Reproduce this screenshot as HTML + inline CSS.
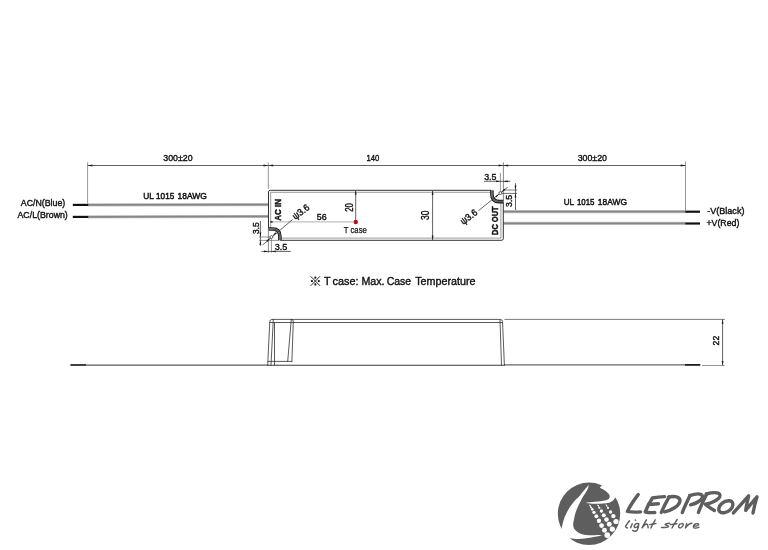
<!DOCTYPE html>
<html>
<head>
<meta charset="utf-8">
<title>Mechanical Specification</title>
<style>
  html, body { margin: 0; padding: 0; background: #ffffff; }
  body { width: 768px; height: 550px; overflow: hidden; font-family: "Liberation Sans", sans-serif; }
  svg { display: block; will-change: transform; }
  text { font-family: "Liberation Sans", sans-serif; fill: #111111; stroke: #111111; stroke-width: 0.4px; }
  .t { font-size: 9.5px; }
  .b { font-size: 9.9px; font-weight: bold; stroke-width: 0.45px; }
  .dim { stroke: #3a3a3a; stroke-width: 0.8; fill: none; }
  .ext { stroke: #6a6a6a; stroke-width: 0.7; fill: none; }
  .arr { fill: #1a1a1a; stroke: none; }
  .box { stroke: #262626; stroke-width: 0.95; fill: none; stroke-linejoin: round; }
  .inn { stroke: #9a9a9a; stroke-width: 1.0; fill: none; }
  .tip { stroke: #111111; stroke-width: 2.2; fill: none; }
  .side { stroke: #303030; stroke-width: 0.8; fill: none; stroke-linejoin: round; stroke-linecap: round; }
</style>
</head>
<body>
<svg width="768" height="550" viewBox="0 0 768 550">

  <!-- ================= TOP VIEW ================= -->
  <!-- overall dimension line -->
  <line class="dim" x1="87.6" y1="165.5" x2="685.5" y2="165.5"/>
  <!-- extension lines -->
  <line class="ext" x1="87.6" y1="162.4" x2="87.6" y2="203.6"/>
  <line class="ext" x1="268.3" y1="162.6" x2="268.3" y2="188.8"/>
  <line class="ext" x1="503.4" y1="162.4" x2="503.4" y2="202.6" style="stroke:#555"/>
  <line class="ext" x1="685.5" y1="161.6" x2="685.5" y2="210.6"/>
  <!-- arrows on the overall dimension line -->
  <path class="arr" d="M87.6 165.5 l4.8 -0.95 v1.9 z"/>
  <path class="arr" d="M268.3 165.5 l-4.8 -0.95 v1.9 z"/>
  <path class="arr" d="M268.3 165.5 l4.8 -0.95 v1.9 z"/>
  <path class="arr" d="M503.4 165.5 l-4.8 -0.95 v1.9 z"/>
  <path class="arr" d="M503.4 165.5 l4.8 -0.95 v1.9 z"/>
  <path class="arr" d="M685.5 165.5 l-4.8 -0.95 v1.9 z"/>

  <text class="t" x="163.3" y="160.9" textLength="29.3" lengthAdjust="spacingAndGlyphs">300±20</text>
  <text class="t" x="366.6" y="160.9" textLength="12.8" lengthAdjust="spacingAndGlyphs">140</text>
  <text class="t" x="577.7" y="161.0" textLength="29.3" lengthAdjust="spacingAndGlyphs">300±20</text>

  <!-- left wires -->
  <g>
    <line x1="88" y1="204.9" x2="268.3" y2="204.6" stroke="#c6c6c6" stroke-width="3.1"/>
    <line x1="88" y1="204.9" x2="268.3" y2="204.6" stroke="#858585" stroke-width="1.7"/>
    <line x1="88" y1="216.9" x2="268.3" y2="216.4" stroke="#c6c6c6" stroke-width="3.1"/>
    <line x1="88" y1="216.9" x2="268.3" y2="216.4" stroke="#858585" stroke-width="1.7"/>
    <line class="tip" x1="72.8" y1="204.9" x2="88.2" y2="204.9"/>
    <line class="tip" x1="72.8" y1="216.9" x2="88.2" y2="216.9"/>
  </g>
  <!-- right wires -->
  <g>
    <line x1="503.6" y1="211.6" x2="685.6" y2="211.6" stroke="#c6c6c6" stroke-width="3.1"/>
    <line x1="503.6" y1="211.6" x2="685.6" y2="211.6" stroke="#858585" stroke-width="1.7"/>
    <line x1="503.6" y1="223.4" x2="685.6" y2="223.4" stroke="#c6c6c6" stroke-width="3.1"/>
    <line x1="503.6" y1="223.4" x2="685.6" y2="223.4" stroke="#858585" stroke-width="1.7"/>
    <line class="tip" x1="685.3" y1="211.7" x2="700" y2="211.7"/>
    <line class="tip" x1="685.3" y1="223.5" x2="700" y2="223.5"/>
  </g>

  <!-- wire labels -->
  <text class="t" x="20.8" y="205.9" textLength="44.5" lengthAdjust="spacingAndGlyphs">AC/N(Blue)</text>
  <text class="t" x="17.5" y="218.0" textLength="50.3" lengthAdjust="spacingAndGlyphs">AC/L(Brown)</text>
  <text class="t" x="707.3" y="213.8" textLength="37.1" lengthAdjust="spacingAndGlyphs">-V(Black)</text>
  <text class="t" x="706.5" y="225.7" textLength="32.8" lengthAdjust="spacingAndGlyphs">+V(Red)</text>
  <text class="t" x="143.2" y="199.0" textLength="10.6" lengthAdjust="spacingAndGlyphs" style="font-size:9.6px;stroke-width:0.5px">UL</text>
  <text class="t" x="156.1" y="199.0" textLength="18.1" lengthAdjust="spacingAndGlyphs" style="font-size:9.6px;stroke-width:0.5px">1015</text>
  <text class="t" x="177.5" y="199.0" textLength="29.3" lengthAdjust="spacingAndGlyphs" style="font-size:9.6px;stroke-width:0.5px">18AWG</text>
  <text class="t" x="563.8" y="204.8" textLength="10.2" lengthAdjust="spacingAndGlyphs" style="font-size:9.6px;stroke-width:0.5px">UL</text>
  <text class="t" x="576.9" y="204.8" textLength="17.6" lengthAdjust="spacingAndGlyphs" style="font-size:9.6px;stroke-width:0.5px">1015</text>
  <text class="t" x="597.8" y="204.8" textLength="29.2" lengthAdjust="spacingAndGlyphs" style="font-size:9.6px;stroke-width:0.5px">18AWG</text>

  <!-- case inner (grey) lines -->
  <path class="inn" d="M270.7 228 V192.3 H491.2"/>
  <path class="inn" d="M280.6 238.1 H500.9 V203"/>
  <!-- T case reference line -->
  <line x1="270.8" y1="221.8" x2="355.5" y2="221.8" stroke="#c2c2c2" stroke-width="1.3"/>

  <!-- case outline -->
  <path class="box" d="M268.5 228.2 V192 Q268.5 190.3 270.2 190.3 H491.0"/>
  <path class="box" d="M503.3 202.4 V238.6 Q503.3 240.3 501.6 240.3 H280.2"/>

  <!-- bottom-left mounting notch -->
  <path d="M268.5 227.9 H272.6 Q281.0 227.9 281.0 236.2 V240.3" stroke="#1c1c1c" stroke-width="1.35" fill="none"/>
  <path d="M268.5 230.1 H272.2 Q278.8 230.1 278.8 236.6 V240.3" stroke="#1c1c1c" stroke-width="1.35" fill="none"/>
  <path d="M268.5 229 H272.4 Q279.9 229 279.9 236.4 V240.3" stroke="#606060" stroke-width="1.5" fill="none"/>
  <!-- top-right mounting notch -->
  <path d="M503.3 202.7 H499.2 Q490.8 202.7 490.8 194.4 V190.3" stroke="#1c1c1c" stroke-width="1.35" fill="none"/>
  <path d="M503.3 200.5 H499.6 Q493.0 200.5 493.0 194.0 V190.3" stroke="#1c1c1c" stroke-width="1.35" fill="none"/>
  <path d="M503.3 201.6 H499.4 Q491.9 201.6 491.9 194.2 V190.3" stroke="#606060" stroke-width="1.5" fill="none"/>

  <!-- 3.5 dims bottom-left -->
  <line class="ext" x1="268.4" y1="228.0" x2="268.4" y2="252.8" style="stroke:#555"/>
  <line class="ext" x1="271.4" y1="238.4" x2="271.4" y2="252.8"/>
  <line class="dim" x1="261.4" y1="251.4" x2="290.8" y2="251.4"/>
  <path class="arr" d="M268.4 251.4 l-4.4 -0.9 v1.8 z"/>
  <path class="arr" d="M271.4 251.4 l4.4 -0.9 v1.8 z"/>
  <text class="t" x="274.8" y="249.7" textLength="12.6" lengthAdjust="spacingAndGlyphs">3.5</text>

  <line class="ext" x1="259.2" y1="237.0" x2="270.0" y2="237.0"/>
  <line class="ext" x1="259.2" y1="240.4" x2="279.0" y2="240.4"/>
  <line class="dim" x1="260.4" y1="221.0" x2="260.4" y2="245.9"/>
  <path class="arr" d="M260.4 237.0 l-0.9 -4.4 h1.8 z"/>
  <path class="arr" d="M260.4 240.4 l-0.9 4.4 h1.8 z"/>
  <text class="t" transform="translate(258.8 233.9) rotate(-90)" textLength="11.7" lengthAdjust="spacingAndGlyphs">3.5</text>

  <!-- 3.5 dims top-right -->
  <line class="ext" x1="500.4" y1="172.9" x2="500.4" y2="191.7"/>
  <line class="dim" x1="484.0" y1="181.3" x2="510.4" y2="181.3"/>
  <path class="arr" d="M500.4 181.3 l-4.4 -0.9 v1.8 z"/>
  <path class="arr" d="M503.4 181.3 l4.4 -0.9 v1.8 z"/>
  <text class="t" x="484.2" y="180.2" textLength="12.3" lengthAdjust="spacingAndGlyphs">3.5</text>

  <line class="ext" x1="503.4" y1="190.0" x2="517.2" y2="190.0" style="stroke:#8a8a8a;stroke-width:1.1"/>
  <line class="ext" x1="501.7" y1="193.4" x2="517.2" y2="193.4" style="stroke:#4a4a4a;stroke-width:0.8"/>
  <line class="dim" x1="515.5" y1="183.2" x2="515.5" y2="210.0"/>
  <path class="arr" d="M515.5 190.0 l-0.9 -4.4 h1.8 z"/>
  <path class="arr" d="M515.5 193.1 l-0.9 4.4 h1.8 z"/>
  <text class="t" transform="translate(512.4 207.0) rotate(-90)" textLength="12.2" lengthAdjust="spacingAndGlyphs">3.5</text>

  <!-- hole leaders -->
  <line class="dim" x1="262.6" y1="245.0" x2="292.6" y2="219.5"/>
  <path class="arr" d="M270.3 237.9 L266.4 240.4 L267.5 241.7 z"/>
  <path class="arr" d="M272.5 236.1 L276.4 233.6 L275.3 232.3 z"/>
  <text class="t" transform="translate(295.3 219.9) rotate(-36.5)" textLength="18.6" lengthAdjust="spacingAndGlyphs">ψ3.6</text>

  <line class="dim" x1="507.8" y1="187.0" x2="478.6" y2="210.6"/>
  <path class="arr" d="M501.4 192.2 L505.3 189.9 L504.3 188.6 z"/>
  <path class="arr" d="M499.2 194.0 L495.3 196.3 L496.3 197.6 z"/>
  <text class="t" transform="translate(463.3 224.9) rotate(-36.5)" textLength="18.6" lengthAdjust="spacingAndGlyphs">ψ3.6</text>

  <circle cx="271.4" cy="237.0" r="1.45" fill="#ffffff" stroke="#333333" stroke-width="0.75"/>
  <circle cx="500.3" cy="193.1" r="1.45" fill="#ffffff" stroke="#333333" stroke-width="0.75"/>
  <!-- AC IN / DC OUT -->
  <text class="b" transform="translate(281.3 220.8) rotate(-90)" textLength="21.8" lengthAdjust="spacingAndGlyphs">AC IN</text>
  <text class="b" transform="translate(498.3 235.0) rotate(-90)" textLength="28.6" lengthAdjust="spacingAndGlyphs">DC OUT</text>

  <!-- T case dims -->
  <rect x="270.3" y="221.1" width="2.3" height="1.6" fill="#2a2a2a"/>
  <text class="t" x="316.8" y="220.1" textLength="9.9" lengthAdjust="spacingAndGlyphs">56</text>
  <line class="dim" x1="355.7" y1="190.6" x2="355.7" y2="221.8"/>
  <path class="arr" d="M355.7 190.6 l-0.9 4.2 h1.8 z"/>
  <text class="t" transform="translate(352.6 211.7) rotate(-90)" textLength="8.6" style="font-size:10.2px" lengthAdjust="spacingAndGlyphs">20</text>
  <circle cx="355.8" cy="222.0" r="2.2" fill="#b5101c"/>
  <text class="t" x="343.8" y="233.0" textLength="23.0" lengthAdjust="spacingAndGlyphs" style="font-size:9.3px;stroke-width:0.25px">T case</text>

  <!-- 30 dim -->
  <line class="dim" x1="432.6" y1="190.6" x2="432.6" y2="240.0"/>
  <path class="arr" d="M432.6 190.6 l-0.9 4.4 h1.8 z"/>
  <path class="arr" d="M432.6 240.0 l-0.9 -4.4 h1.8 z"/>
  <text class="t" transform="translate(428.9 220.0) rotate(-90)" textLength="9.4" style="font-size:10.8px" lengthAdjust="spacingAndGlyphs">30</text>

  <!-- note -->
  <g aria-label="※">
    <path d="M310.7 276.3 L320.0 285.8 M320.0 276.3 L310.7 285.8" stroke="#1a1a1a" stroke-width="0.95" fill="none"/>
    <circle cx="315.35" cy="277.7" r="1.1" fill="#111111"/>
    <circle cx="315.35" cy="284.4" r="1.1" fill="#111111"/>
    <circle cx="311.9" cy="281.05" r="1.1" fill="#111111"/>
    <circle cx="318.8" cy="281.05" r="1.1" fill="#111111"/>
  </g>
  <text x="324.1" y="284.6" style="font-size:11.6px" textLength="6.6" lengthAdjust="spacingAndGlyphs">T</text>
  <text x="332.6" y="284.6" style="font-size:11.6px" textLength="25.9" lengthAdjust="spacingAndGlyphs">case:</text>
  <text x="361.4" y="284.6" style="font-size:11.6px" textLength="23.1" lengthAdjust="spacingAndGlyphs">Max.</text>
  <text x="386.7" y="284.6" style="font-size:11.6px" textLength="24.4" lengthAdjust="spacingAndGlyphs">Case</text>
  <text x="415.2" y="284.6" style="font-size:11.6px" textLength="60.3" lengthAdjust="spacingAndGlyphs">Temperature</text>

  <!-- ================= SIDE VIEW ================= -->
  <!-- wires -->
  <line x1="85.5" y1="365.1" x2="268" y2="365.1" stroke="#5a5a5a" stroke-width="1.1"/>
  <line x1="70.4" y1="365.0" x2="85.9" y2="365.0" stroke="#111111" stroke-width="1.6"/>
  <line x1="504.3" y1="364.8" x2="685.2" y2="364.8" stroke="#666666" stroke-width="1.35"/>
  <line x1="684.9" y1="364.9" x2="700.3" y2="364.9" stroke="#111111" stroke-width="1.7"/>
  <!-- case -->
  <path class="side" d="M267.8 365.1 L268.0 358 L269.8 321.4 Q270.0 319.5 271.8 319.4 H500.4 Q502.3 319.6 502.5 321.4 L504.4 365.1"/>
  <path class="side" d="M269.8 322.5 H502.4"/>
  <path class="side" d="M267.7 365.25 H504.4" style="stroke-width:0.95"/>
  <path class="side" d="M273.3 319.4 L271.0 365.1"/>
  <path class="side" d="M274.5 322.5 V365.1"/>
  <path class="side" d="M267.9 361.4 H291.9"/>
  <path class="side" d="M291.3 319.4 L287.7 361.4"/>
  <path class="side" d="M291.3 319.4 Q293.3 319.6 293.3 321.2 L291.9 361.4"/>
  <path class="side" d="M500.0 319.8 L501.5 365.1"/>
  <!-- 22 dim -->
  <line class="ext" x1="504.4" y1="319.4" x2="724.8" y2="319.4" style="stroke:#444"/>
  <line class="ext" x1="702.2" y1="365.5" x2="724.8" y2="365.5"/>
  <line class="dim" x1="722.6" y1="319.4" x2="722.6" y2="365.5"/>
  <path class="arr" d="M722.6 319.4 l-0.9 4.4 h1.8 z"/>
  <path class="arr" d="M722.6 365.5 l-0.9 -4.4 h1.8 z"/>
  <text class="t" transform="translate(719.1 345.4) rotate(-90)" textLength="9.6" style="font-size:9.8px" lengthAdjust="spacingAndGlyphs">22</text>

  <!-- ================= LOGO ================= -->
  <g id="logo">
    <circle cx="589" cy="513.8" r="31.2" fill="#5e5e5e"/>
<path d="M 588.7 485.0 C 588.18 485.60 587.05 486.87 585.6 488.6 C 584.15 490.33 581.85 493.33 580.0 495.4 C 578.15 497.47 576.37 498.78 574.5 501.0 C 572.63 503.22 570.47 505.95 568.8 508.7 C 567.13 511.45 565.58 514.73 564.5 517.5 C 563.42 520.27 562.77 523.48 562.3 525.3 C 561.83 527.12 561.80 527.88 561.7 528.4 C 561.50 529.00 560.28 530.65 560.5 532.0 C 560.72 533.35 561.92 535.25 563.0 536.5 C 564.08 537.75 565.88 539.25 567.0 539.5 C 568.12 539.75 569.25 538.25 569.7 538.0 C 570.72 538.15 573.32 538.82 575.8 538.9 C 578.28 538.98 580.90 538.93 584.6 538.5 C 588.30 538.07 595.00 536.83 598.0 536.3 C 601.00 535.77 601.83 535.47 602.6 535.3 C 601.83 535.25 600.28 535.00 598.0 535.0 C 595.72 535.00 591.87 535.55 588.9 535.3 C 585.93 535.05 582.52 534.43 580.2 533.5 C 577.88 532.57 576.17 531.07 575.0 529.7 C 573.83 528.33 573.37 527.05 573.2 525.3 C 573.03 523.55 573.48 521.67 574.0 519.2 C 574.52 516.73 575.13 513.63 576.3 510.5 C 577.47 507.37 579.65 503.05 581.0 500.4 C 582.35 497.75 583.28 496.50 584.4 494.6 C 585.52 492.70 586.98 490.60 587.7 489.0 C 588.42 487.40 588.53 485.67 588.7 485.0 Z" fill="#ffffff"/>
<path d="M 602.6 484.2 L 601.8 485.4 L 599.8 487.6 C 601.2 488.6 602.4 489.0 603.3 489.6 C 604.8 490.4 606.2 491.4 607.3 492.5 C 608.6 493.6 609.6 494.8 609.7 496.0 C 609.8 497.4 609.4 498.4 608.5 499.2 C 606.8 500.0 605.0 500.4 603.3 500.7 C 600.4 501.2 597.4 501.5 594.5 501.8 C 591.6 502.1 588.7 502.5 585.4 502.8 C 588.7 503.5 591.6 503.8 594.5 503.8 C 597.4 503.9 600.4 503.8 603.3 503.6 C 605.2 503.5 607.2 503.2 609.1 502.7 C 610.6 502.2 612.0 501.4 613.1 500.4 C 614.0 499.3 614.7 498.4 615.1 497.4 L 622 497 L 624 488 L 612 478 Z" fill="#ffffff"/>
<circle cx="590.04" cy="505.61" r="0.70" fill="#ffffff"/>
<circle cx="591.00" cy="507.35" r="0.96" fill="#ffffff"/>
<circle cx="592.23" cy="509.36" r="1.31" fill="#ffffff"/>
<circle cx="593.97" cy="512.33" r="1.66" fill="#ffffff"/>
<circle cx="596.33" cy="516.26" r="1.92" fill="#ffffff"/>
<circle cx="598.95" cy="520.72" r="2.18" fill="#ffffff"/>
<circle cx="601.57" cy="525.52" r="2.36" fill="#ffffff"/>
<circle cx="604.45" cy="530.32" r="2.45" fill="#ffffff"/>
<circle cx="607.25" cy="535.13" r="2.79" fill="#ffffff"/>
<circle cx="598.17" cy="505.61" r="0.70" fill="#ffffff"/>
<circle cx="599.39" cy="507.70" r="1.05" fill="#ffffff"/>
<circle cx="601.40" cy="511.02" r="1.66" fill="#ffffff"/>
<circle cx="603.76" cy="515.21" r="2.01" fill="#ffffff"/>
<circle cx="606.46" cy="519.41" r="2.27" fill="#ffffff"/>
<circle cx="609.26" cy="524.21" r="2.45" fill="#ffffff"/>
<circle cx="612.31" cy="529.01" r="2.62" fill="#ffffff"/>
<circle cx="606.55" cy="505.43" r="0.70" fill="#ffffff"/>
<circle cx="607.95" cy="507.88" r="1.05" fill="#ffffff"/>
<circle cx="610.57" cy="511.98" r="1.66" fill="#ffffff"/>
<circle cx="613.36" cy="516.09" r="2.18" fill="#ffffff"/>
<circle cx="615.98" cy="521.50" r="2.62" fill="#ffffff"/>
<path d="M589.6 504.9 L591.0 507.4" stroke="#ffffff" stroke-width="0.7" stroke-linecap="round"/>
<path d="M597.7 504.9 L599.4 507.7" stroke="#ffffff" stroke-width="0.7" stroke-linecap="round"/>
<path d="M606.1 504.7 L607.9 507.9" stroke="#ffffff" stroke-width="0.7" stroke-linecap="round"/>
<g fill="none" stroke="#5e5e5e" stroke-width="3.4" stroke-linecap="round" stroke-linejoin="round">
<path d="M638.2 494.6 C634 500 629.5 507 627.4 511.4 C631 512.2 636 512.2 640.6 511.9"/>
<path d="M664.6 496.6 C660 496.9 656 497.4 652.4 498.0 C649.5 502.5 646.8 508 645.2 512.0 C648.5 512.7 652 512.7 654.8 512.5"/>
<path d="M648.8 504.4 C652 504.2 655.5 504.0 658.4 503.8"/>
<path d="M669.0 497.2 C666 502.5 663.3 508 661.3 512.4"/>
<path d="M668.6 497.0 C673 496.2 677.5 496.4 679.3 498.6 C681.3 501.4 678.5 505.2 674.5 507.8 C671.5 509.8 668 511.2 664.6 511.9"/>
<path d="M689.9 495.7 C687 501.5 684.2 507.5 682.3 512.6"/>
<path d="M689.6 495.6 C693.5 494.3 698.5 493.4 701.0 494.4 C703.3 495.6 702.6 498.4 700.3 500.4 C697.7 502.6 694 504.1 690.6 504.8"/>
<path d="M706.6 494.2 C703.6 500.2 700.4 506.8 698.4 512.5"/>
<path d="M706.2 494.0 C710.5 492.8 715.5 492.2 718.3 493.1 C720.7 494.2 720.4 496.6 718.4 498.6 C715.4 501.4 710 503.5 705.3 504.3 C708.4 506.6 711.5 508.8 714.4 510.5"/>
<path d="M728.6 500.7 C723.8 500.9 719.6 504.4 718.9 508.2 C718.3 511.6 720.8 513.1 724.2 512.7 C729.0 512.0 732.7 508.2 732.9 504.6 C733.0 501.9 731.2 500.6 728.6 500.7 Z"/>
<path d="M733.4 512.9 C738.5 507.5 744 501 748.6 495.8 C747.6 500.5 746.4 506 745.7 510.4 C749.4 505.8 753.4 500.8 757.0 496.8 C755.4 502 754.0 508 753.0 513.0"/>
</g>
<g fill="none" stroke="#5e5e5e" stroke-width="1.45" stroke-linecap="round" stroke-linejoin="round">
<path d="M629.5 520.7 C628.0 522.6 626.4 524.8 625.5 526.3 C625.6 527.4 626.6 527.9 627.5 527.9"/>
<path d="M632.3 523.8 C631.6 525.2 631.0 526.6 630.6 527.8"/>
<path d="M635.3 520.0 L635.5 520.2"/>
<path d="M638.4 523.6 C636.6 522.8 634.6 524.2 634.2 526.0 C634.0 527.6 635.6 528.0 637.0 527.0 C638.0 526.2 638.6 524.8 638.8 523.6 C638.6 526.2 638.2 528.8 637.2 530.2 C636.0 531.4 633.8 531.2 632.6 530.4"/>
<path d="M646.4 519.8 C645.0 522.4 643.2 525.6 642.1 527.8 C643.4 526.0 645.4 524.0 646.8 524.0 C648.0 524.2 647.9 526.2 648.1 527.8"/>
<path d="M655.2 519.8 C653.6 522.6 652.0 525.6 650.9 528.0"/>
<path d="M649.8 524.6 C651.8 524.2 654.0 523.8 655.9 523.5"/>
<path d="M669.7 523.2 C668.0 523.2 665.6 523.6 665.2 524.4 C665.2 525.2 668.4 525.6 668.5 526.4 C667.6 527.4 664.0 527.6 661.5 527.5"/>
<path d="M677.2 519.5 C675.4 522.4 673.4 525.4 672.0 528.0"/>
<path d="M670.3 524.6 C672.4 524.2 674.8 523.9 676.9 523.7"/>
<path d="M682.0 523.6 C680.2 523.6 678.8 525.0 678.6 526.4 C678.5 527.8 679.8 528.2 681.2 527.6 C682.6 526.8 683.4 525.4 683.3 524.4 C683.2 523.7 682.6 523.5 682.0 523.6 Z"/>
<path d="M686.7 523.8 C686.2 525.2 685.8 526.6 685.5 528.0 C686.6 526.0 688.8 523.8 691.8 523.3"/>
<path d="M693.6 526.3 C695.6 526.2 698.4 525.6 698.7 524.6 C698.8 523.6 696.8 523.3 695.4 524.0 C693.8 524.8 693.0 526.4 693.6 527.4 C694.6 528.4 697.2 528.0 699.0 527.2"/>
</g>
  </g>
</svg>
</body>
</html>
